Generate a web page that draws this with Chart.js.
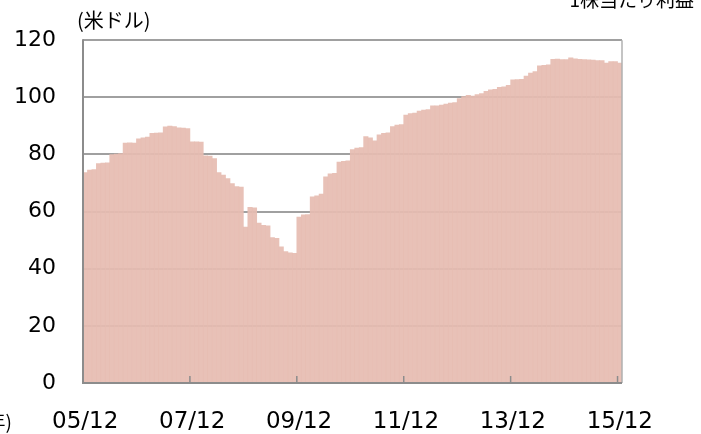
<!DOCTYPE html>
<html>
<head>
<meta charset="utf-8">
<script src="https://cdn.jsdelivr.net/npm/chart.js@4/dist/chart.umd.min.js"></script>
<style>
    body { margin: 0; background: #fff; }
    #wrap { width: 701px; height: 434px; }
</style>
</head>
<body>
<div id="wrap"><canvas id="eps" width="701" height="434"></canvas></div>
<script>
// 1株当たり利益 (monthly, 05/12 - 15/12)
const startYear = 2005
const startMonth = 12
const eps = [
    73.7, 74.5, 74.7, 76.8, 77.0, 77.1, 80.0, 80.1, 80.3, 84.0, 84.1, 84.0,
    85.5, 85.8, 86.1, 87.4, 87.5, 87.6, 89.7, 89.9, 89.8, 89.3, 89.2, 89.1,
    84.4, 84.4, 84.3, 79.5, 79.4, 78.6, 73.7, 72.8, 71.6, 69.8, 68.8, 68.6,
    54.6, 61.5, 61.3, 56.0, 55.2, 55.0, 50.9, 50.6, 47.7, 46.0, 45.6, 45.4,
    58.1, 58.9, 59.0, 65.2, 65.5, 66.1, 72.2, 73.2, 73.4, 77.3, 77.6, 77.8,
    81.7, 82.2, 82.4, 86.3, 85.8, 84.8, 86.9, 87.4, 87.6, 89.8, 90.3, 90.5,
    93.8, 94.3, 94.5, 95.2, 95.5, 95.7, 97.0, 97.0, 97.3, 97.6, 98.0, 98.2,
    99.6, 100.3, 100.7, 100.4, 101.0, 101.3, 102.1, 102.6, 102.8, 103.5, 103.7, 104.2,
    106.1, 106.2, 106.3, 107.4, 108.5, 109.0, 111.0, 111.2, 111.4, 113.3, 113.4, 113.2,
    113.2, 113.8, 113.5, 113.3, 113.2, 113.1, 113.0, 112.9, 112.9, 112.0, 112.5, 112.5,
    112.0
]
const yTicks = [0, 20, 40, 60, 80, 100, 120]
const labelEvery = 24

let labels = eps.map((v, i) => {
    let m = startMonth + i
    let y = startYear + Math.floor((m - 1) / 12)
    let mm = ((m - 1) % 12) + 1
    return String(y % 100).padStart(2, '0') + '/' + String(mm).padStart(2, '0')
})

const frame = {
    id: 'frame',
    afterDatasetsDraw(chart) {
        let ctx = chart.ctx
        let a = chart.chartArea
        let xs = chart.scales.x
        let step = a.width / eps.length
        ctx.save()
        // right border
        ctx.strokeStyle = '#b0b0b0'
        ctx.lineWidth = 1.5
        ctx.beginPath()
        ctx.moveTo(a.right, a.top)
        ctx.lineTo(a.right, a.bottom)
        ctx.stroke()
        // axes
        ctx.strokeStyle = '#8c8c8c'
        ctx.lineWidth = 2
        ctx.beginPath()
        ctx.moveTo(a.left, a.top - 1)
        ctx.lineTo(a.left, a.bottom)
        ctx.lineTo(a.right, a.bottom)
        ctx.stroke()
        // inner tick marks
        ctx.lineWidth = 1.5
        for (let i = labelEvery; i < eps.length; i += labelEvery) {
            let x = xs.getPixelForValue(i) - step / 2
            ctx.beginPath()
            ctx.moveTo(x, a.bottom)
            ctx.lineTo(x, a.bottom - 7)
            ctx.stroke()
        }
        ctx.restore()
    },
    afterDraw(chart) {
        let ctx = chart.ctx
        ctx.save()
        ctx.fillStyle = '#000'
        ctx.font = '20px "Noto Sans CJK JP", sans-serif'
        ctx.textBaseline = 'middle'
        ctx.textAlign = 'left'
        ctx.fillText('(米ドル)', 77, 20)
        ctx.font = '19px "Noto Sans CJK JP", sans-serif'
        ctx.textAlign = 'right'
        ctx.fillText('(年)', 12, 422)
        ctx.textBaseline = 'alphabetic'
        ctx.fillText('1株当たり利益', 694, 7)
        ctx.restore()
    }
}

var ctx = document.getElementById('eps')
var myChart = new Chart(ctx, {
    type: 'bar',
    data: {
        labels: labels,
        datasets: [{
            label: '1株当たり利益',
            data: eps,
            backgroundColor: 'rgba(230, 188, 178, 0.93)',
            borderWidth: 0,
            barPercentage: 1,
            categoryPercentage: 1
        }]
    },
    options: {
        responsive: false,
        devicePixelRatio: 1,
        animation: false,
        layout: {
            padding: { left: 0, right: 79, top: 36, bottom: 0 }
        },
        scales: {
            x: {
                grid: { display: false, drawTicks: false },
                border: { display: false },
                ticks: {
                    autoSkip: false,
                    maxRotation: 0,
                    minRotation: 0,
                    padding: 25,
                    color: '#000',
                    font: { family: '"DejaVu Sans", Verdana, sans-serif', size: 23 },
                    callback: (v, i) => (i % labelEvery === 0 ? labels[i] : '')
                },
                afterFit: (s) => { s.height = 51 }
            },
            y: {
                min: 0,
                max: 120,
                afterBuildTicks: (s) => { s.ticks = yTicks.map(v => ({ value: v })) },
                grid: { color: '#a0a0a0', lineWidth: 2, drawTicks: false },
                border: { display: false },
                ticks: {
                    padding: 27,
                    color: '#000',
                    font: { family: '"DejaVu Sans", Verdana, sans-serif', size: 22 }
                },
                afterFit: (s) => { s.width = 83 }
            }
        },
        plugins: {
            legend: { display: false },
            tooltip: { enabled: false }
        }
    },
    plugins: [frame]
})
</script>
</body>
</html>
